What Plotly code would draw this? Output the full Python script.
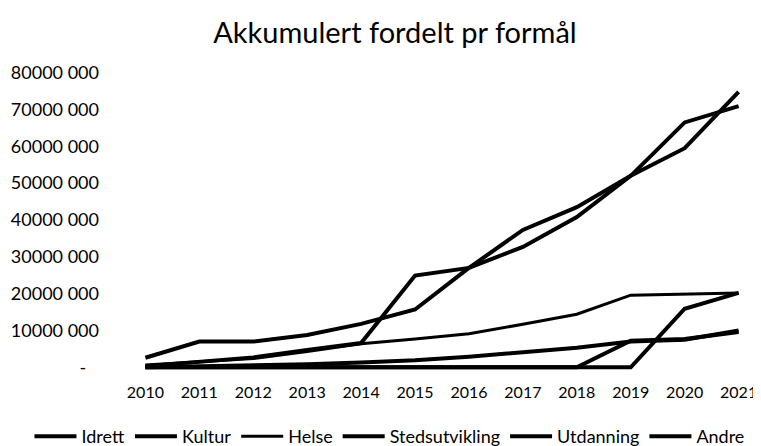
import plotly.graph_objects as go

years = [2010, 2011, 2012, 2013, 2014, 2015, 2016, 2017, 2018, 2019, 2020, 2021]

# akkumulerte beløp (kr)
idrett = [300_000, 1_400_000, 2_700_000, 4_700_000, 6_600_000, 24_900_000,
          27_000_000, 37_300_000, 43_500_000, 52_000_000, 59_500_000, 74_800_000]
kultur = [2_600_000, 7_000_000, 7_000_000, 8_800_000, 11_800_000, 15_700_000,
          27_000_000, 32_700_000, 40_800_000, 52_000_000, 66_500_000, 70_900_000]
helse = [600_000, 1_500_000, 2_400_000, 4_300_000, 6_400_000, 7_700_000,
         9_100_000, 11_700_000, 14_400_000, 19_600_000, 19_900_000, 20_200_000]
stedsutvikling = [0, 200_000, 500_000, 800_000, 1_300_000, 1_900_000,
                  2_900_000, 4_000_000, 5_300_000, 7_000_000, 7_500_000, 10_000_000]
utdanning = [0, 0, 0, 0, 0, 0, 0, 0, 0, 7_200_000, 7_700_000, 9_600_000]
andre = [0, 0, 0, 0, 0, 0, 0, 0, 0, 0, 15_900_000, 20_200_000]

series = {
    "Idrett": idrett,
    "Kultur": kultur,
    "Helse": helse,
    "Stedsutvikling": stedsutvikling,
    "Utdanning": utdanning,
    "Andre": andre,
}
widths = {"Helse": 3}

y_ticks = [0, 10_000_000, 20_000_000, 30_000_000, 40_000_000,
           50_000_000, 60_000_000, 70_000_000, 80_000_000]
y_labels = ["-\u2007\u2009", "10000 000", "20000 000", "30000 000", "40000 000",
            "50000 000", "60000 000", "70000 000", "80000 000"]

FONT = "Lato, 'Open Sans', sans-serif"

fig = go.Figure()
for name, vals in series.items():
    fig.add_trace(go.Scatter(
        x=years, y=vals, name=name, mode="lines",
        line=dict(color="black", width=widths.get(name, 4)),
    ))

# the page body adds 8px, so everything is drawn 8px up/left
fig.update_layout(
    width=761, height=446,
    margin=dict(l=131.6, r=24.6, t=60.8, b=82.6, autoexpand=False),
    paper_bgcolor="white", plot_bgcolor="white",
    font=dict(family=FONT, size=17, color="black"),
    title=dict(text="Akkumulert fordelt pr formål", xref="container", x=0.5085,
               xanchor="center", y=0.944, yanchor="middle",
               font=dict(family=FONT, size=29, color="black")),
    showlegend=True,
    legend=dict(orientation="h", x=-0.183, xanchor="left",
                y=-0.217, yanchor="middle", font=dict(size=18),
                tracegroupgap=0, itemwidth=42),
)
fig.update_xaxes(range=[2009.9, 2021.1], tickvals=years, showgrid=False,
                 zeroline=False, showline=False, ticklabelstandoff=10,
                 tickangle=0, tickfont=dict(size=16))
fig.update_yaxes(range=[-1_000_000, 81_000_000], tickvals=y_ticks, ticktext=y_labels,
                 showgrid=False, zeroline=False, showline=False, ticklabelstandoff=40,
                 tickfont=dict(size=18))

fig.write_html("out.html")
